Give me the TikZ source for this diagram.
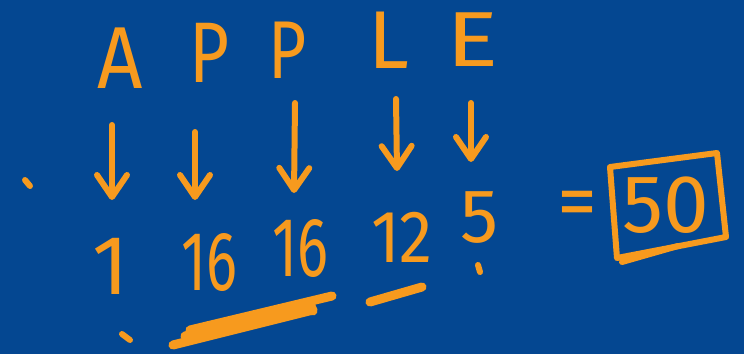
\documentclass[tikz,border=0pt]{standalone}
\usepackage{fontspec}
\usepackage{graphicx}
\setmainfont{Fira Sans}
\usetikzlibrary{arrows.meta,calc}
\definecolor{board}{RGB}{4,71,145}
\definecolor{chalk}{RGB}{247,154,30}

\begin{document}
\begin{tikzpicture}[x=.5pt,y=-.5pt,
 glyph/.style={chalk,inner sep=0pt},
 pen/.style={chalk,line width=3pt,line cap=round,line join=round},
 arrowline/.style={pen,-{Straight Barb[length=11pt,width=15pt,round]}},
 smear/.style={chalk,line width=4.5pt,line cap=round}]
 \fill[board] (0,0) rectangle (744,354);
 % word
 \foreach \n/\t/\x/\y/\s/\f in {la/A/120/58/44/.9,lp/P/209/53/43/.8,
   lq/P/288/50/41/.8,ll/L/389/40/41/1,le/E/473/40/39/1.25}
  {\node[glyph,font=\fontsize{\s}{\s}\selectfont] (\n) at (\x,\y)
    {\scalebox{\f}[1]{\t}};}
 % letter values
 \foreach \n/\t/\x/\y/\s/\f in {na/1/111/266/42/1,np/16/209/262/42/.69,
   nq/16/300/248/42/.69,nl/12/402/237/37/.9,ne/5/480/218/38/1}
  {\node[glyph,font=\fontsize{\s}{\s}\selectfont] (\n) at (\x,\y)
    {\scalebox{\f}[1]{\t}};}
 \foreach \a/\b/\sx/\sy/\ex/\ey in {la/na/-8/67/1/-66,lp/np/-14/79/-14/-62,
   lq/nq/7/53/-6/-55,ll/nl/7/59/-5/-66,le/ne/-2/63/-9/-56}
  {\draw[arrowline] ($(\a)+(\sx,\sy)$) -- ($(\b)+(\ex,\ey)$);}
 % sum
 \node[glyph,font=\fontsize{40}{40}\selectfont] (eq) at (577,210) {=};
 \node[glyph,font=\fontsize{41}{41}\selectfont] (total) at (666,205) {50};
 \draw[pen] ($(total)+(-56,-38)$) -- ($(total)+(51,-52)$)
  -- ($(total)+(60,32)$) -- ($(total)+(-49,53)$) -- cycle;
 % scribbles
 \draw[smear] (190,330)--(332,296);
 \draw[smear] (185,336)--(310,303)--(313,311);
 \draw[smear] (173,345)--(313,310);
 \draw[smear] (370,302)--(422,287);
 \draw[pen] (622,262)--(678,246);
 \foreach \x/\y/\u/\v in {25/180/30/186,122/334/130/340,478/265/480/272}
  {\draw[pen] (\x,\y)--(\u,\v);}
\end{tikzpicture}
\end{document}
